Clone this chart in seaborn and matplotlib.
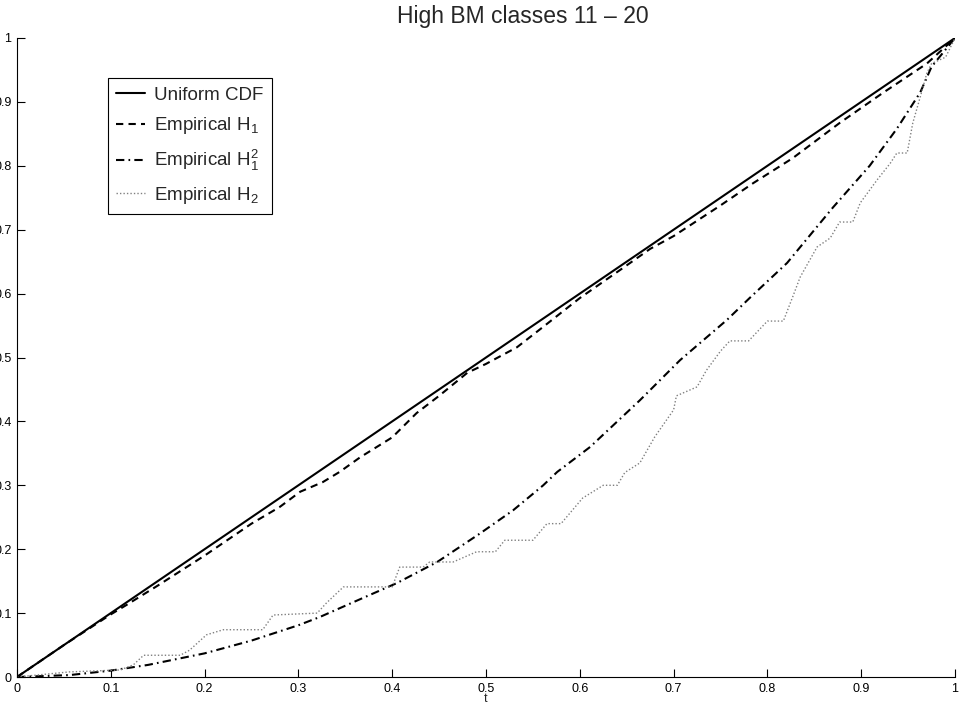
# Empirical CDFs vs uniform CDF, high BM classes 11-20
import seaborn as sns
import matplotlib.pyplot as plt
import pandas as pd

# data
t_unif = [0, 1]
unif = [0, 1]

t_h1 = [0, 0.05, 0.1, 0.117, 0.15, 0.2, 0.25, 0.28, 0.302, 0.326, 0.344, 0.366,
        0.4, 0.426, 0.45, 0.48, 0.5, 0.533, 0.561, 0.6, 0.643, 0.675, 0.7, 0.75,
        0.785, 0.827, 0.877, 0.923, 0.97, 1.0]
h1 = [0, 0.05, 0.098, 0.113, 0.143, 0.19, 0.24, 0.266, 0.29, 0.305, 0.321, 0.344,
      0.375, 0.413, 0.44, 0.476, 0.49, 0.516, 0.548, 0.593, 0.637, 0.67, 0.69, 0.738,
      0.773, 0.812, 0.867, 0.914, 0.96, 1.0]

t_h1sq = [0, 0.056, 0.1, 0.14, 0.2, 0.25, 0.3, 0.323, 0.36, 0.405, 0.448, 0.494,
          0.529, 0.561, 0.576, 0.611, 0.664, 0.707, 0.757, 0.781, 0.821, 0.87,
          0.909, 0.938, 0.963, 0.975, 1.0]
h1sq = [0, 0.003, 0.01, 0.019, 0.037, 0.057, 0.081, 0.094, 0.118, 0.147, 0.18, 0.225,
        0.261, 0.30, 0.321, 0.36, 0.433, 0.496, 0.559, 0.593, 0.648, 0.735,
        0.80, 0.858, 0.915, 0.955, 1.0]

t_h2 = [0, 0.056, 0.11, 0.124, 0.135, 0.174, 0.184, 0.202, 0.22, 0.262,
        0.273, 0.32, 0.33, 0.348, 0.40, 0.408, 0.433, 0.44, 0.465, 0.49,
        0.51, 0.52, 0.55, 0.565, 0.58, 0.603, 0.625, 0.64, 0.648, 0.664,
        0.68, 0.70, 0.703, 0.725, 0.735, 0.75, 0.76, 0.78, 0.80, 0.817,
        0.827, 0.835, 0.853, 0.867, 0.877, 0.891, 0.899, 0.917, 0.931, 0.938,
        0.949, 0.955, 0.963, 0.97, 0.975, 0.99, 1.0]
h2 = [0, 0.008, 0.011, 0.019, 0.034, 0.034, 0.042, 0.066, 0.074, 0.074,
      0.097, 0.100, 0.116, 0.141, 0.141, 0.172, 0.172, 0.18, 0.18, 0.196,
      0.196, 0.214, 0.214, 0.24, 0.24, 0.28, 0.30, 0.30, 0.32, 0.335,
      0.376, 0.418, 0.44, 0.454, 0.48, 0.51, 0.526, 0.526, 0.557, 0.557,
      0.595, 0.626, 0.673, 0.687, 0.712, 0.712, 0.742, 0.778, 0.804, 0.82,
      0.82, 0.867, 0.908, 0.945, 0.96, 0.97, 1.0]

tick_labels = ['0', '0.1', '0.2', '0.3', '0.4', '0.5', '0.6', '0.7', '0.8', '0.9', '1']

sns.set_style("ticks")
plt.rcParams['font.family'] = ['Liberation Sans', 'DejaVu Sans']
plt.rcParams['mathtext.default'] = 'regular'

fig = plt.figure(figsize=(9.61, 7.08), dpi=100)
ax = fig.add_axes([17 / 961, 31 / 708, 938 / 961, 639 / 708])

sns.lineplot(x=t_unif, y=unif, ax=ax, color='black', lw=1.5,
             label='Uniform CDF', estimator=None)
sns.lineplot(x=t_h1, y=h1, ax=ax, color='black', lw=1.5, linestyle=(0, (3.5, 2.5)),
             label='Empirical H$_1$', estimator=None)
sns.lineplot(x=t_h1sq, y=h1sq, ax=ax, color='black', lw=1.5,
             linestyle=(0, (4, 2, 0.8, 2)),
             label='Empirical H$_1^2$', estimator=None)
sns.lineplot(x=t_h2, y=h2, ax=ax, color='0.5', lw=1.0, linestyle=(0, (1, 1.5)),
             label='Empirical H$_2$', estimator=None)

ax.set_xlim(0, 1)
ax.set_ylim(0, 1)
ax.set_xticks([i / 10 for i in range(11)])
ax.set_yticks([i / 10 for i in range(11)])
ax.set_xticklabels(tick_labels)
ax.set_yticklabels(tick_labels)
ax.tick_params(direction='in', length=6, width=0.8, labelsize=9, pad=4, colors='black')
sns.despine(ax=ax)
for s in ['left', 'bottom']:
    ax.spines[s].set_linewidth(0.8)
    ax.spines[s].set_color('black')

ax.set_xlabel('t', fontsize=9, labelpad=-1)
ax.set_ylabel('')
# title sits right of the axes centre in the reference (cropped figure)
ax.set_title('High BM classes 11 \u2013 20', fontsize=16.5, pad=11, x=0.539)

leg = ax.legend(loc='upper left', bbox_to_anchor=(0.097, 0.937), borderaxespad=0,
                fontsize=13.5, handlelength=1.5, labelspacing=0.62, handletextpad=0.5,
                fancybox=False, framealpha=1, edgecolor='black', borderpad=0.45)
leg.get_frame().set_linewidth(0.8)

plt.savefig('out.png', dpi=100)
